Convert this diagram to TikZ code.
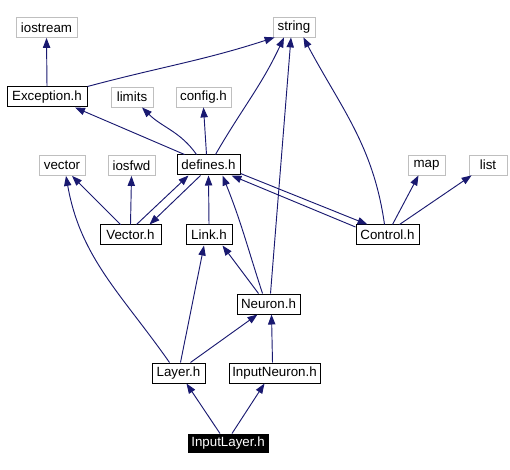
\documentclass[tikz,border=0pt]{standalone}
\usepackage{fontspec}
\setmainfont{Liberation Sans}
\usetikzlibrary{arrows.meta,positioning,calc}
\definecolor{DepCol}{HTML}{191970}
\definecolor{ExtCol}{HTML}{BFBFBF}
\tikzset{
  file box/.style={
    shape = rectangle,
    draw,
    line width=.75pt,
    inner sep=0pt,
    minimum height=15pt,
    minimum width=#1*0.75pt,
    font=\fontsize{10}{12}\selectfont,
    },
  ext box/.style ={
    file box=#1,
    draw = ExtCol,
    line width=.6pt,
    },
  main box/.style ={
    file box=#1,
    fill = black,
    text = white,
    minimum height=13.5pt,
    },
}
\tikzstyle{Dep} = [-{Triangle[length=7.5pt,width=5.5pt]},DepCol,line width=.7pt]

\begin{document}
\begin{tikzpicture}[x=0.75pt,y=-0.75pt]

    \useasboundingbox (0,0) rectangle (510,470);

    % external headers
    \node[ext box=61] (iostream) at (46.5,27.5) {iostream};
    \node[ext box=42] (string) at (294,27) {string};
    \node[ext box=42] (limits) at (132,97) {limits};
    \node[ext box=55] (config) at (203.5,97) {config.h};
    \node[ext box=46] (vector) at (62,165.5) {vector};
    \node[ext box=47] (iosfwd) at (131.5,165.5) {iosfwd};
    \node[ext box=37] (map) at (426.5,165) {map};
    \node[ext box=38] (list) at (488,165) {list};

    % project headers
    \node[file box=80] (exc) at (47,97) {Exception.h};
    \node[file box=63] (def) at (208.5,165) {defines.h};
    \node[file box=61] (vec) at (130.5,235) {Vector.h};
    \node[file box=46] (link) at (209,235) {Link.h};
    \node[file box=63] (ctl) at (387.5,235) {Control.h};
    \node[file box=63] (neu) at (268.5,304) {Neuron.h};
    \node[file box=53] (lay) at (178.5,373) {Layer.h};
    \node[file box=91] (inn) at (274.5,373) {InputNeuron.h};
    \node[main box=80] (inl) at (228,443) {InputLayer.h};

    % Exception.h
    \draw[Dep] (exc.north) -- (iostream.south);
    \draw[Dep] (exc.north east) to[out=15,in=198] ($(string.south west)+(2,0)$);

    % defines.h
    \draw[Dep] ($(def.north)+(-24,0)$) -- ($(exc.south)+(28,0)$);
    \draw[Dep] ($(def.north)+(-12,0)$) to[out=125,in=-45] ($(limits.south)+(10,0)$);
    \draw[Dep] ($(def.north)+(-2,0)$) -- (config.south);
    \draw[Dep] ($(def.north)+(7,0)$) to[out=60,in=-115] ($(string.south)+(-10,0)$);
    \draw[Dep] ($(def.south east)+(0,-2)$) -- ($(ctl.north west)+(12,0)$);
    \draw[Dep] ($(def.south)+(-8,0)$) -- ($(vec.north east)+(-12,0)$);

    % Vector.h
    \draw[Dep] ($(vec.north)+(-10,0)$) -- ($(vector.south)+(10,0)$);
    \draw[Dep] (vec.north) -- (iosfwd.south);
    \draw[Dep] ($(vec.north)+(6,0)$) -- ($(def.south west)+(12,0)$);

    % Link.h
    \draw[Dep] (link.north) -- (def.south);

    % Control.h
    \draw[Dep] ($(ctl.west)+(0,-8)$) -- ($(def.south east)+(-9,0)$);
    \draw[Dep] ($(ctl.north)+(-3,0)$) to[out=98,in=-62] ($(string.south east)+(-12,0)$);
    \draw[Dep] ($(ctl.north)+(5,0)$) -- ($(map.south)+(-8,0)$);
    \draw[Dep] ($(ctl.north)+(12,0)$) -- ($(list.south west)+(3,0)$);

    % Neuron.h
    \draw[Dep] ($(neu.north)+(-6,0)$) to[out=108,in=-68] ($(def.south)+(14,0)$);
    \draw[Dep] ($(neu.north)+(2,0)$) -- ($(string.south)+(-3,0)$);
    \draw[Dep] ($(neu.north)+(-10,0)$) -- ($(link.south east)+(-10,0)$);

    % Layer.h
    \draw[Dep] ($(lay.north)+(-9,0)$) to[out=125,in=-80] ($(vector.south)+(4,0)$);
    \draw[Dep] ($(lay.north)+(2,0)$) -- ($(link.south)+(-5,0)$);
    \draw[Dep] ($(lay.north)+(12,0)$) -- ($(neu.south)+(-11,0)$);

    % InputNeuron.h
    \draw[Dep] ($(inn.north)+(-2,0)$) -- ($(neu.south)+(3,0)$);

    % InputLayer.h
    \draw[Dep] ($(inl.north)+(-8,0)$) -- ($(lay.south)+(8,0)$);
    \draw[Dep] ($(inl.north)+(4,0)$) -- ($(inn.south)+(-10,0)$);

\end{tikzpicture}
\end{document}
